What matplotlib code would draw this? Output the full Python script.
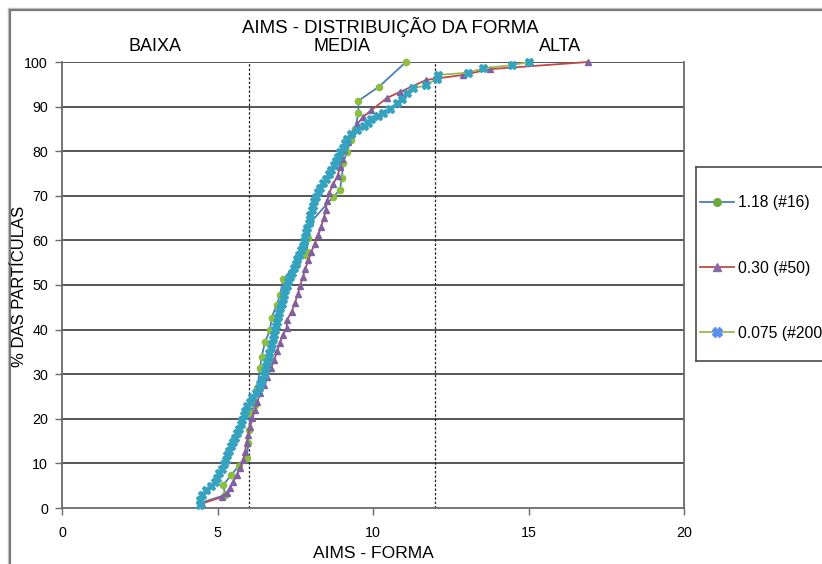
import matplotlib
matplotlib.use("Agg")
import matplotlib.pyplot as plt
from matplotlib.lines import Line2D

plt.rcParams['font.family'] = ['Liberation Sans', 'DejaVu Sans']

# ---- data -------------------------------------------------------------
title = "AIMS - DISTRIBUIÇÃO DA FORMA"
xlabel = "AIMS - FORMA"
ylabel = "% DAS PARTÍCULAS"
band_labels = ["BAIXA", "MEDIA", "ALTA"]
band_centers = [3, 9, 16]
band_limits = [6, 12]
x_ticks = [0, 5, 10, 15, 20]
y_ticks = [0, 10, 20, 30, 40, 50, 60, 70, 80, 90, 100]
series_names = ["1.18 (#16)", "0.30 (#50)", "0.075 (#200)"]

s16_x = [4.48, 5.24, 5.19, 5.45, 5.70, 5.94, 5.99, 6.02, 6.05, 6.20, 6.28,
         6.37, 6.42, 6.53, 6.69, 6.74, 6.90, 7.01, 7.12, 7.55, 7.81, 7.87,
         7.92, 7.97, 8.72, 8.94, 8.99, 9.05, 9.15, 9.30, 9.42, 9.53, 9.53,
         10.20, 11.06]
s16_y = [1.2, 2.9, 5.2, 7.5, 9.5, 11.1, 14.5, 17.5, 21.2, 23.1, 27.0,
         31.5, 33.9, 37.3, 39.9, 42.7, 45.5, 47.8, 51.3, 54.9, 56.7, 57.5,
         60.5, 63.8, 69.8, 71.3, 73.9, 77.3, 79.9, 82.5, 85.0, 88.5, 91.3,
         94.5, 100.0]

s50_x = [4.49, 5.13, 5.30, 5.40, 5.51, 5.62, 5.72, 5.83, 5.88, 5.94, 5.99,
         6.05, 6.12, 6.20, 6.28, 6.38, 6.50, 6.60, 6.72, 6.82, 6.92, 7.00,
         7.10, 7.22, 7.24, 7.38, 7.49, 7.58, 7.66, 7.74, 7.82, 7.92, 8.02,
         8.12, 8.24, 8.33, 8.42, 8.48, 8.52, 8.60, 8.72, 8.86, 8.94, 9.00,
         9.08, 9.20, 9.31, 9.50, 9.69, 9.95, 10.44, 10.87, 11.72, 12.90,
         13.76, 16.92]
s50_y = [1.0, 2.4, 3.4, 4.5, 5.9, 7.4, 8.9, 10.8, 12.6, 14.5, 16.4,
         18.2, 20.1, 22.0, 23.8, 25.7, 27.5, 29.4, 31.3, 33.2, 35.1, 37.0,
         38.9, 40.3, 42.2, 44.0, 46.0, 47.9, 49.8, 51.7, 53.6, 55.5, 57.4,
         59.3, 61.2, 63.1, 65.0, 66.9, 68.8, 70.7, 72.6, 74.5, 76.4, 78.3,
         80.2, 82.1, 84.0, 86.2, 87.7, 89.2, 91.9, 93.3, 96.0, 97.1,
         98.4, 100.0]

s200_x = [4.44, 4.45, 4.50, 4.62, 4.80, 4.92, 4.98, 5.04, 5.14, 5.20, 5.26,
          5.31, 5.38, 5.44, 5.50, 5.57, 5.62, 5.68, 5.75, 5.80, 5.85, 5.89,
          5.96, 6.03, 6.12, 6.24, 6.33, 6.38, 6.44, 6.49, 6.53, 6.57, 6.60,
          6.64, 6.67, 6.71, 6.74, 6.78, 6.81, 6.85, 6.88, 6.92, 6.95, 6.99,
          7.02, 7.06, 7.10, 7.13, 7.17, 7.22, 7.28, 7.34, 7.40, 7.46, 7.51,
          7.56, 7.62, 7.68, 7.74, 7.78, 7.81, 7.85, 7.89, 7.93, 7.96, 7.99,
          8.03, 8.07, 8.11, 8.16, 8.22, 8.30, 8.40, 8.48, 8.58, 8.66, 8.74,
          8.82, 8.88, 8.95, 9.02, 9.10, 9.18, 9.30, 9.50, 9.70, 9.85, 9.95,
          10.15, 10.33, 10.55, 10.76, 10.92, 11.08, 11.30, 11.72, 12.05,
          12.10, 13.06, 13.55, 14.46, 15.03]
s200_y = [0.7, 1.8, 2.9, 4.0, 5.0, 5.9, 6.8, 7.8, 8.8, 9.8, 10.8,
          11.8, 12.8, 13.8, 14.8, 15.8, 16.8, 17.8, 18.8, 19.8, 20.8, 21.8,
          22.8, 23.8, 24.8, 25.8, 26.8, 27.8, 28.8, 29.8, 30.8, 31.8, 32.8,
          33.8, 34.8, 35.8, 36.8, 37.8, 38.8, 39.8, 40.8, 41.8, 42.8, 43.8,
          44.8, 45.8, 46.8, 47.8, 48.8, 49.8, 50.8, 51.8, 52.8, 53.8, 54.8,
          55.8, 56.8, 57.8, 58.8, 59.8, 60.8, 61.8, 62.8, 63.8, 64.8, 65.8,
          66.8, 67.8, 68.8, 69.8, 70.8, 71.8, 72.8, 73.8, 74.8, 75.8, 76.8,
          77.8, 78.8, 79.8, 80.8, 81.8, 82.8, 83.8, 84.8, 85.6, 86.4, 87.2,
          88.0, 88.5, 89.5, 90.7, 91.8, 93.0, 94.1, 94.8, 96.3,
          97.1, 97.6, 98.6, 99.3, 100.0]

# ---- styles -----------------------------------------------------------
styles = [
    dict(color="#4a7ebb", marker="o", mfc="#8dbf3f", mec="#8dbf3f", ms=4.5, lw=1.3),
    dict(color="#be4b48", marker="^", mfc="#7e62a1", mec="#7e62a1", ms=5.0, lw=1.3),
    dict(color="#98b954", marker="X", mfc="#35a2bf", mec="#35a2bf", ms=5.5, lw=1.3),
]
legend_marker_colors = ["#6aaa3a", "#8a6aa8", "#5a8ef0"]

W, H = 822, 564
fig = plt.figure(figsize=(W / 100, H / 100), dpi=100)
ax = fig.add_axes([62 / W, (H - 508) / H, (684 - 62) / W, (508 - 62) / H])


def fx(px):
    return px / W


def fy(py):
    return 1 - py / H


def seg(x0, y0, x1, y1, **kw):
    """Straight line between two points given in pixels from the top-left."""
    fig.add_artist(Line2D([fx(x0), fx(x1)], [fy(y0), fy(y1)],
                          transform=fig.transFigure, **kw))


# outer chart frame: left and top edges, running to the canvas edge
for off, col, lw in [(7.5, "#c8c8c8", 1.0), (9.5, "#7a7a7a", 1.6)]:
    seg(off, off, off, H, color=col, lw=lw, zorder=0)
    seg(off, off, W, off, color=col, lw=lw, zorder=0)

ax.set_xlim(0, 20)
ax.set_ylim(0, 100)

for yv in y_ticks[1:]:
    ax.axhline(yv, color="#3a3a3a", lw=1.2, zorder=1)
for xv in band_limits:
    ax.axvline(xv, color="#222222", lw=0.9, ls=(0, (2, 1.5)), zorder=1)

xs = [s16_x, s50_x, s200_x]
ys = [s16_y, s50_y, s200_y]
for x, y, st in zip(xs, ys, styles):
    ax.plot(x, y, zorder=3, clip_on=False, **st)

for sp in ["left", "bottom", "right"]:
    ax.spines[sp].set_color("#6a6a6a")
    ax.spines[sp].set_linewidth(1.3)
ax.spines["top"].set_visible(False)

ax.set_xticks(x_ticks)
ax.set_yticks(y_ticks)
ax.tick_params(axis="both", direction="out", length=5, width=1.0,
               color="#6a6a6a", labelsize=10.3, pad=5)
ax.tick_params(axis="x", pad=8)

for lab, xc in zip(band_labels, band_centers):
    ax.text(xc, 103.4, lab, ha="center", va="center", fontsize=13,
            clip_on=False)

fig.text(fx(390), fy(27), title, ha="center", va="center", fontsize=13.4)
fig.text(fx(373), fy(553), xlabel, ha="center", va="center", fontsize=12.6)
fig.text(fx(20), fy(286), ylabel, ha="center", va="center",
         rotation=90, fontsize=12)

# legend frame: top, left and bottom edges; the right side leaves the canvas
seg(696, 167, W, 167, color="#4a4a4a", lw=1.2)
seg(696, 167, 696, 361, color="#4a4a4a", lw=1.2)
seg(696, 361, W, 361, color="#4a4a4a", lw=1.2)

handles = []
for st, mc in zip(styles, legend_marker_colors):
    handles.append(Line2D([], [], color=st["color"], lw=st["lw"],
                          marker=st["marker"], mfc=mc, mec=mc, ms=st["ms"] + 1))
fig.legend(handles, series_names, loc="center left",
           bbox_to_anchor=(fx(698), fy(268)), frameon=False,
           fontsize=11.3, handlelength=2.2, handletextpad=0.25,
           labelspacing=3.2, borderpad=0.1, borderaxespad=0)

fig.savefig("out.png", dpi=100)
